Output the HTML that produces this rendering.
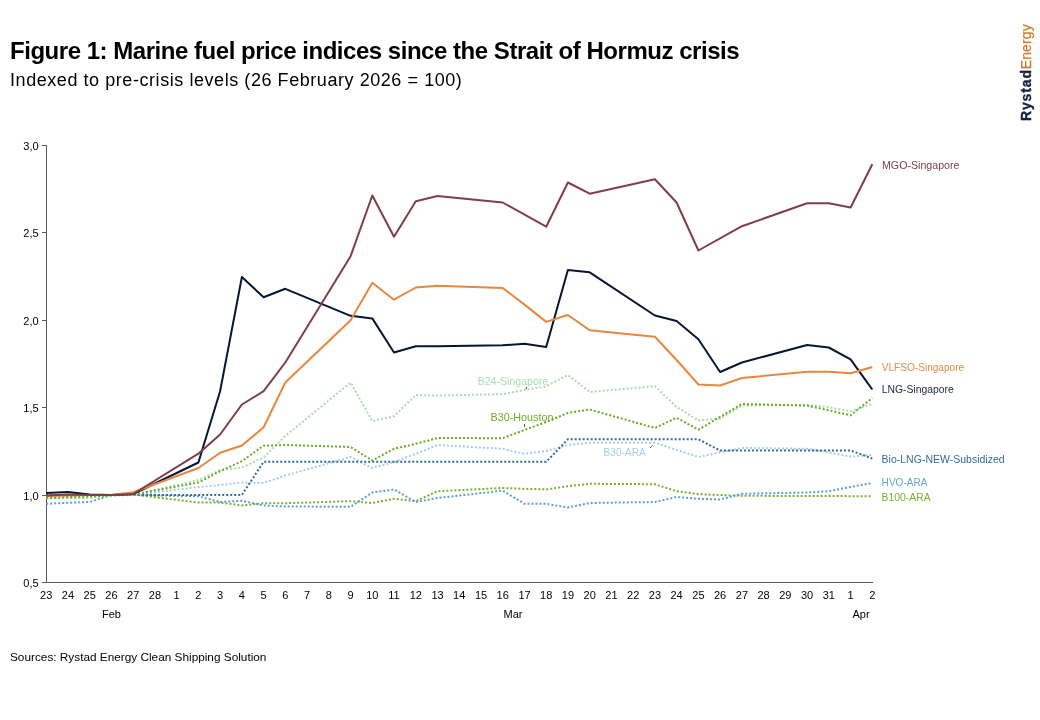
<!DOCTYPE html>
<html><head><meta charset="utf-8"><style>
html,body{margin:0;padding:0;background:#fff;} svg,.title,.sub,.src,.logo{will-change:transform}
body{width:1040px;height:720px;position:relative;overflow:hidden;font-family:"Liberation Sans",sans-serif;}
.title{position:absolute;left:10px;top:36.6px;font-weight:bold;font-size:24px;line-height:28px;color:#000;white-space:nowrap;letter-spacing:-0.47px}
.sub{position:absolute;left:10px;top:68.8px;font-size:18px;line-height:22px;color:#000;white-space:nowrap;letter-spacing:0.56px}
.src{position:absolute;left:10px;top:650px;font-size:11.8px;line-height:14px;color:#000;white-space:nowrap}
.logo{position:absolute;left:1018.4px;top:120.5px;transform-origin:0 0;transform:rotate(-90deg);font-size:14px;white-space:nowrap;line-height:16px}
.logo b{color:#13223E;letter-spacing:0.85px;-webkit-text-stroke:0.35px #13223E} .logo span{color:#D07E2E;letter-spacing:0.1px;-webkit-text-stroke:0.25px #D07E2E}
svg{position:absolute;left:0;top:0}
.tk{font-size:11px;fill:#000}
.lb{font-size:10.8px}
</style></head><body>
<div class="title">Figure 1: Marine fuel price indices since the Strait of Hormuz crisis</div>
<div class="sub">Indexed to pre-crisis levels (26 February 2026 = 100)</div>
<div class="logo"><b>Rystad</b><span>Energy</span></div>
<svg width="1040" height="720" viewBox="0 0 1040 720" font-family="Liberation Sans, sans-serif">
<line x1="46.5" y1="145" x2="46.5" y2="583" stroke="#595959" stroke-width="1"/>
<line x1="42" y1="582.5" x2="873" y2="582.5" stroke="#595959" stroke-width="1"/>
<line x1="42" y1="145.5" x2="47" y2="145.5" stroke="#595959" stroke-width="1"/>
<text x="38.6" y="149.6" text-anchor="end" class="tk">3,0</text>
<line x1="42" y1="232.5" x2="47" y2="232.5" stroke="#595959" stroke-width="1"/>
<text x="38.6" y="236.6" text-anchor="end" class="tk">2,5</text>
<line x1="42" y1="320.5" x2="47" y2="320.5" stroke="#595959" stroke-width="1"/>
<text x="38.6" y="324.6" text-anchor="end" class="tk">2,0</text>
<line x1="42" y1="407.5" x2="47" y2="407.5" stroke="#595959" stroke-width="1"/>
<text x="38.6" y="411.6" text-anchor="end" class="tk">1,5</text>
<line x1="42" y1="495.5" x2="47" y2="495.5" stroke="#595959" stroke-width="1"/>
<text x="38.6" y="499.6" text-anchor="end" class="tk">1,0</text>
<line x1="42" y1="582.5" x2="47" y2="582.5" stroke="#595959" stroke-width="1"/>
<text x="38.6" y="586.6" text-anchor="end" class="tk">0,5</text>
<text x="46.2" y="599" text-anchor="middle" class="tk">23</text>
<text x="67.9" y="599" text-anchor="middle" class="tk">24</text>
<text x="89.7" y="599" text-anchor="middle" class="tk">25</text>
<text x="111.4" y="599" text-anchor="middle" class="tk">26</text>
<text x="133.2" y="599" text-anchor="middle" class="tk">27</text>
<text x="154.9" y="599" text-anchor="middle" class="tk">28</text>
<text x="176.6" y="599" text-anchor="middle" class="tk">1</text>
<text x="198.4" y="599" text-anchor="middle" class="tk">2</text>
<text x="220.1" y="599" text-anchor="middle" class="tk">3</text>
<text x="241.9" y="599" text-anchor="middle" class="tk">4</text>
<text x="263.6" y="599" text-anchor="middle" class="tk">5</text>
<text x="285.3" y="599" text-anchor="middle" class="tk">6</text>
<text x="307.1" y="599" text-anchor="middle" class="tk">7</text>
<text x="328.8" y="599" text-anchor="middle" class="tk">8</text>
<text x="350.6" y="599" text-anchor="middle" class="tk">9</text>
<text x="372.3" y="599" text-anchor="middle" class="tk">10</text>
<text x="394.0" y="599" text-anchor="middle" class="tk">11</text>
<text x="415.8" y="599" text-anchor="middle" class="tk">12</text>
<text x="437.5" y="599" text-anchor="middle" class="tk">13</text>
<text x="459.2" y="599" text-anchor="middle" class="tk">14</text>
<text x="481.0" y="599" text-anchor="middle" class="tk">15</text>
<text x="502.7" y="599" text-anchor="middle" class="tk">16</text>
<text x="524.5" y="599" text-anchor="middle" class="tk">17</text>
<text x="546.2" y="599" text-anchor="middle" class="tk">18</text>
<text x="567.9" y="599" text-anchor="middle" class="tk">19</text>
<text x="589.7" y="599" text-anchor="middle" class="tk">20</text>
<text x="611.4" y="599" text-anchor="middle" class="tk">21</text>
<text x="633.2" y="599" text-anchor="middle" class="tk">22</text>
<text x="654.9" y="599" text-anchor="middle" class="tk">23</text>
<text x="676.6" y="599" text-anchor="middle" class="tk">24</text>
<text x="698.4" y="599" text-anchor="middle" class="tk">25</text>
<text x="720.1" y="599" text-anchor="middle" class="tk">26</text>
<text x="741.9" y="599" text-anchor="middle" class="tk">27</text>
<text x="763.6" y="599" text-anchor="middle" class="tk">28</text>
<text x="785.3" y="599" text-anchor="middle" class="tk">29</text>
<text x="807.1" y="599" text-anchor="middle" class="tk">30</text>
<text x="828.8" y="599" text-anchor="middle" class="tk">31</text>
<text x="850.6" y="599" text-anchor="middle" class="tk">1</text>
<text x="872.3" y="599" text-anchor="middle" class="tk">2</text>
<text x="111.4" y="617.5" text-anchor="middle" class="tk">Feb</text>
<text x="513" y="617.5" text-anchor="middle" class="tk">Mar</text>
<text x="861" y="617.5" text-anchor="middle" class="tk">Apr</text>
<polyline points="46.2,498.0 67.9,498.0 89.7,497.5 111.4,495.0 133.2,494.5 198.4,502.5 220.1,502.5 241.9,505.5 263.6,503.2 285.3,503.2 350.6,501.2 372.3,503.0 394.0,498.8 415.8,501.2 437.5,491.2 502.7,488.0 524.5,488.8 546.2,489.5 567.9,486.2 589.7,483.8 654.9,484.2 676.6,491.2 698.4,494.2 720.1,495.0 741.9,495.8 807.1,496.0 872.3,496.2" fill="none" stroke="#7AB02E" stroke-width="2" stroke-dasharray="2 2" stroke-linejoin="round"/>
<polyline points="46.2,503.9 67.9,502.7 89.7,502.0 111.4,495.0 133.2,495.0 198.4,496.2 220.1,502.0 241.9,500.8 263.6,505.5 285.3,506.5 350.6,506.8 372.3,492.5 394.0,489.5 415.8,502.0 437.5,498.0 502.7,490.7 524.5,503.8 546.2,503.8 567.9,507.5 589.7,503.0 654.9,502.0 676.6,497.0 698.4,498.8 720.1,499.5 741.9,493.8 807.1,492.5 828.8,491.2 850.6,487.0 872.3,483.0" fill="none" stroke="#5BA0D6" stroke-width="2" stroke-dasharray="2 2" stroke-linejoin="round"/>
<polyline points="46.2,498.3 67.9,498.0 89.7,497.0 111.4,495.0 133.2,495.0 198.4,487.0 220.1,485.0 241.9,482.5 263.6,483.0 285.3,475.5 350.6,457.0 372.3,468.0 394.0,462.0 415.8,453.8 437.5,445.0 502.7,448.8 524.5,453.8 546.2,451.0 567.9,445.0 589.7,442.8 654.9,442.8 698.4,457.0 720.1,452.5 741.9,448.0 807.1,448.8 828.8,452.5 850.6,456.6 872.3,454.8" fill="none" stroke="#A6CDE8" stroke-width="2" stroke-dasharray="2 2" stroke-linejoin="round"/>
<polyline points="46.2,495.0 133.2,495.0 241.9,495.0 263.6,461.8 546.2,461.8 567.9,439.3 698.4,439.3 720.1,450.5 850.6,450.5 872.3,458.5" fill="none" stroke="#2F6E98" stroke-width="2" stroke-dasharray="2 2" stroke-linejoin="round"/>
<polyline points="46.2,498.0 133.2,495.0 198.4,480.0 220.1,470.0 241.9,467.5 263.6,457.5 285.3,436.0 350.6,382.5 372.3,421.2 394.0,416.2 415.8,395.0 437.5,395.5 502.7,394.2 524.5,390.0 546.2,386.3 567.9,375.0 589.7,392.0 654.9,386.2 676.6,407.0 698.4,420.4 720.1,418.5 741.9,405.6 807.1,404.7 828.8,407.3 850.6,411.2 872.3,403.8" fill="none" stroke="#A8DDB0" stroke-width="2" stroke-dasharray="2 2" stroke-linejoin="round"/>
<polyline points="46.2,498.0 133.2,494.5 198.4,482.5 220.1,471.2 241.9,461.2 263.6,445.7 285.3,445.0 350.6,447.0 372.3,460.5 394.0,448.8 415.8,443.8 437.5,438.0 502.7,438.2 524.5,430.0 546.2,422.0 567.9,413.0 589.7,409.5 654.9,428.0 676.6,417.8 698.4,429.7 741.9,404.0 807.1,405.6 828.8,410.3 850.6,415.3 872.3,398.0" fill="none" stroke="#6AAA22" stroke-width="2" stroke-dasharray="2 2" stroke-linejoin="round"/>
<polyline points="46.2,493.0 67.9,492.0 89.7,494.5 111.4,495.0 133.2,494.0 198.4,462.5 220.1,391.2 241.9,277.0 263.6,297.3 285.3,288.8 350.6,315.8 372.3,318.4 394.0,352.5 415.8,346.2 437.5,346.3 502.7,345.3 524.5,343.7 546.2,347.0 567.9,270.0 589.7,272.3 654.9,315.5 676.6,321.0 698.4,339.2 720.1,372.0 741.9,362.5 807.1,345.0 828.8,347.5 850.6,359.3 872.3,389.5" fill="none" stroke="#071632" stroke-width="2" stroke-linejoin="round"/>
<polyline points="46.2,496.0 67.9,495.5 89.7,495.0 111.4,495.0 133.2,492.3 198.4,468.0 220.1,452.8 241.9,445.5 263.6,427.3 285.3,382.5 350.6,320.3 372.3,282.8 394.0,299.7 415.8,287.5 437.5,285.7 502.7,288.0 524.5,304.6 546.2,321.9 567.9,315.0 589.7,330.2 654.9,336.7 676.6,360.0 698.4,384.5 720.1,385.5 741.9,378.0 807.1,371.8 828.8,371.8 850.6,373.3 872.3,367.0" fill="none" stroke="#E8873F" stroke-width="2" stroke-linejoin="round"/>
<polyline points="46.2,495.6 67.9,494.5 89.7,495.0 111.4,495.0 133.2,494.0 198.4,453.7 220.1,434.5 241.9,404.5 263.6,391.2 285.3,362.5 350.6,256.2 372.3,195.5 394.0,236.7 415.8,201.2 437.5,196.0 502.7,202.5 546.2,226.7 567.9,182.5 589.7,193.7 654.9,179.2 676.6,202.5 698.4,250.5 741.9,226.2 807.1,203.3 828.8,203.3 850.6,207.5 872.3,164.2" fill="none" stroke="#7F3E48" stroke-width="2" stroke-linejoin="round"/>
<text x="882" y="168.8" class="lb" fill="#7F3E48" textLength="77.5" lengthAdjust="spacingAndGlyphs">MGO-Singapore</text>
<text x="881.7" y="370.6" class="lb" fill="#E58A45" textLength="82.5" lengthAdjust="spacingAndGlyphs">VLFSO-Singapore</text>
<text x="881.7" y="392.7" class="lb" fill="#17263F" textLength="72" lengthAdjust="spacingAndGlyphs">LNG-Singapore</text>
<text x="881.6" y="463" class="lb" fill="#2F6E98" textLength="123" lengthAdjust="spacingAndGlyphs">Bio-LNG-NEW-Subsidized</text>
<text x="881.6" y="485.8" class="lb" fill="#62A6D8" textLength="46" lengthAdjust="spacingAndGlyphs">HVO-ARA</text>
<text x="881.6" y="500.6" class="lb" fill="#78B02E" textLength="49" lengthAdjust="spacingAndGlyphs">B100-ARA</text>
<text x="477.7" y="384.9" class="lb" fill="#A8DDB3" textLength="70.5" lengthAdjust="spacingAndGlyphs">B24-Singapore</text>
<text x="490.5" y="420.8" class="lb" fill="#6FAC2A" textLength="63" lengthAdjust="spacingAndGlyphs">B30-Houston</text>
<text x="603.5" y="455.8" class="lb" fill="#A6CDE8" textLength="42.2" lengthAdjust="spacingAndGlyphs">B30-ARA</text>
<line x1="526" y1="389.2" x2="527" y2="387.2" stroke="#222" stroke-width="0.9"/>
<line x1="524.5" y1="424" x2="524.5" y2="427" stroke="#333" stroke-width="0.8"/>
<line x1="650" y1="448" x2="652.5" y2="445.5" stroke="#333" stroke-width="0.8"/>
</svg>
<div class="src">Sources: Rystad Energy Clean Shipping Solution</div>
</body></html>
